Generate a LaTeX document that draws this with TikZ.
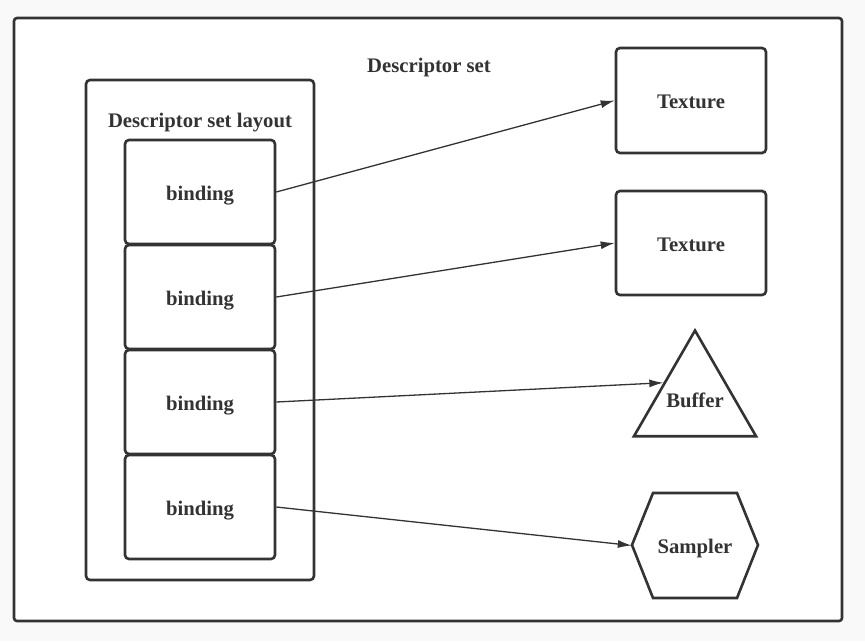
\documentclass[tikz,border=0pt]{standalone}
\usepackage{fontspec}
\setmainfont{Liberation Serif}
\usepackage{tikz}
\usetikzlibrary{shapes.geometric}
\usetikzlibrary{arrows.meta}
\definecolor{ink}{HTML}{333333}
\definecolor{paper}{HTML}{F9F9F9}
\tikzset{
    box/.style={draw=ink, line width=2.6pt, rounded corners=4pt, minimum width=150pt, minimum height=104pt, inner sep=0pt},
    lbl/.style={text=ink, font=\fontsize{20.7}{24}\selectfont\bfseries, text height=16pt, text depth=0pt},
    link/.style={draw=ink, line width=1.3pt, -{Latex[length=14pt,width=8pt]}}
}
\newcommand{\binding}[2]{ \node[box, lbl] (#1) at (200,#2) {binding};}

\begin{document}
\begin{tikzpicture}[x=1pt,y=-1pt]
        \useasboundingbox[fill=paper] (0,0) rectangle (865,641);
        \draw[draw=ink, fill=white, line width=2.6pt, rounded corners=3pt] (14,18) rectangle (842,621);
        \node[lbl] (set) at (429,64) {Descriptor set};

        % layout
        \draw[draw=ink, line width=2.6pt, rounded corners=4pt] (86,80) rectangle (314,580);
        \node[lbl] (layout) at (200,119) {Descriptor set layout};
        \binding{b1}{192}
        \binding{b2}{297}
        \binding{b3}{402}
        \binding{b4}{507}

        % resources
        \node[box, lbl, minimum height=105pt] (tex1) at (691,100.5) {Texture};
        \node[box, lbl] (tex2) at (691,243) {Texture};
        \node[draw=ink, line width=2.6pt, regular polygon, regular polygon sides=3, minimum size=141pt, inner sep=0pt] (buf) at (695,401) {};
        \node[lbl] (buftext) at (695,399) {Buffer};
        \draw[draw=ink, line width=2.6pt] (632,545) -- (653,493) -- (737,493) -- (758,545) -- (737,598) -- (653,598) -- cycle;
        \node[lbl, minimum width=126pt, minimum height=105pt, inner sep=0pt] (samp) at (695,545.5) {Sampler};

        % links
        \draw[link] (b1.east) -- (tex1.west);
        \draw[link] (b2.east) -- (tex2.west);
        \draw[link] (b3.east) -- (buf.side 1);
        \draw[link] (b4.east) -- (samp.west);
    \end{tikzpicture}
\end{document}
